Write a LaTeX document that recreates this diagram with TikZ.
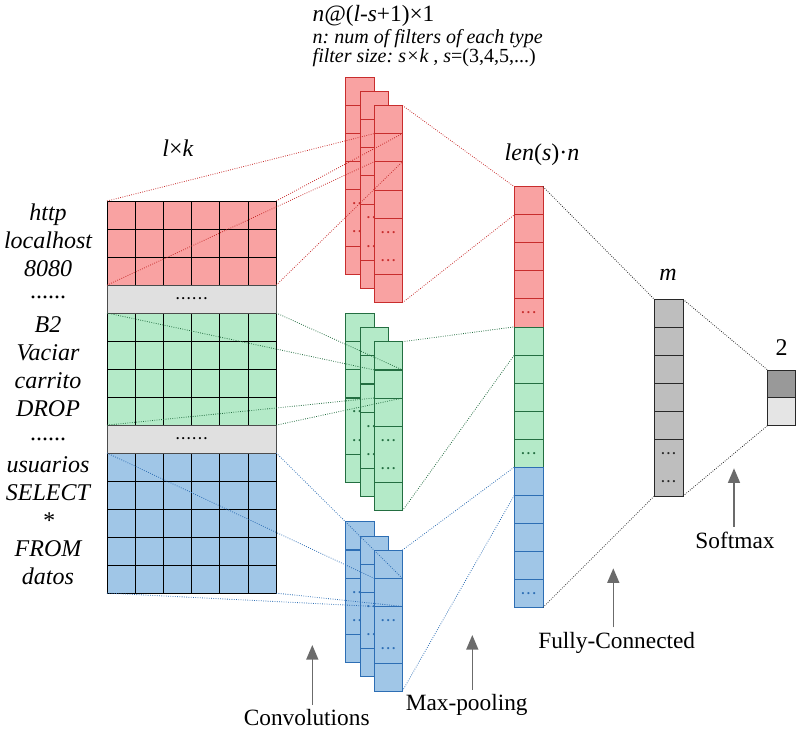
\documentclass[tikz,border=0pt]{standalone}
\usepackage{fontspec}
\setmainfont{Liberation Serif}
\usetikzlibrary{arrows.meta}
\frenchspacing
\definecolor{rfill}{RGB}{249,162,162}
\definecolor{rline}{RGB}{200,45,45}
\definecolor{gfill}{RGB}{180,234,200}
\definecolor{gline}{RGB}{35,110,65}
\definecolor{bfill}{RGB}{160,198,231}
\definecolor{bline}{RGB}{45,110,180}
\definecolor{kfill}{RGB}{190,190,190}
\definecolor{kline}{RGB}{40,40,40}
\tikzset{
  cell/.style={draw, line width=0.6pt, anchor=north west, inner sep=0pt, outer sep=0pt,
    minimum width=21.2pt, minimum height=21.1pt},
  blockcol/.style={fill=#1fill, draw=#1line},
  gapcell/.style={cell, fill=black!12, draw=black!70, minimum width=126.9pt,
    font=\fontsize{10}{10}\selectfont\bfseries},
  celldots/.style={text=#1line, inner sep=0pt, font=\fontsize{10}{10}\selectfont\bfseries},
  link/.style={draw=#1line, line width=0.6pt, dash pattern=on 0.6pt off 1.1pt},
  uparrow/.style={draw=black!58, line width=1.2pt, -{Triangle[length=11pt,width=9pt]}},
  wordlab/.style={font=\fontsize{18}{20}\selectfont\itshape, text height=12pt, text depth=4pt, inner sep=0pt},
  dotlab/.style={font=\fontsize{18}{20}\selectfont, inner sep=0pt},
  steplab/.style={font=\fontsize{17.5}{20}\selectfont},
  dimlab/.style={font=\fontsize{18}{20}\selectfont},
}
\begin{document}
\begin{tikzpicture}[x=0.75pt,y=-0.75pt]
\useasboundingbox (0,0) rectangle (796,731);

% input matrix
\foreach \cl/\rows/\ytop in {r/3/201,g/4/313,b/5/453}
  \foreach \i in {1,...,\rows}
    \foreach \j in {1,...,6}
      \node[cell, blockcol=\cl, draw=black] (m\cl-\i-\j) at ({107+28.2*(\j-1)},{\ytop+28*(\i-1)}) {};
\node[gapcell] (gap1) at (107,285) {.\,.\,.\,.\,.\,.};
\node[gapcell] (gap2) at (107,425) {.\,.\,.\,.\,.\,.};

\foreach \t/\rw [count=\i] in {http/1,localhost/2,8080/3,B2/5,Vaciar/6,carrito/7,DROP/8,usuarios/10,SELECT/11,*/12,FROM/13,datos/14}
  \node[wordlab] (word\i) at (48,{215+28*(\rw-1)}) {\t};
\node[dotlab] (skip1) at (48,297) {......};
\node[dotlab] (skip2) at (48,439) {......};
\node[dimlab] (lk) at (178,148) {\textit{l}×\textit{k}};

% convolution filters
\foreach \cl/\nn/\ytop in {r/4/77,g/3/313.3,b/2/521.7}
  \foreach \colm in {1,2,3}{
    \pgfmathsetmacro\cx{345.7+14.2*(\colm-1)}
    \pgfmathsetmacro\cy{\ytop+14.2*(\colm-1)}
    \foreach \i in {1,...,\nn}
      \node[cell, blockcol=\cl] (\cl c-\colm-\i) at (\cx,{\cy+28.2*(\i-1)}) {};
    \node[cell, blockcol=\cl, minimum height=42.3pt] (\cl c-\colm-d) at (\cx,{\cy+28.2*\nn}) {};
    \node[cell, blockcol=\cl] (\cl c-\colm-e) at (\cx,{\cy+28.2*(\nn+2)}) {};
    \node[celldots=\cl] (\cl c-\colm-d1) at ({\cx+14.2},{\cy+28.2*(\nn+0.5)}) {.\,.\,.};
    \node[celldots=\cl] (\cl c-\colm-d2) at ({\cx+14.2},{\cy+28.2*(\nn+1.5)}) {.\,.\,.};
  }
\node[font=\fontsize{17.5}{20}\selectfont, anchor=west] (shape) at (308,16) {\textit{n@}(\textit{l-s}+1)×1};
\node[font=\fontsize{15}{17}\selectfont\itshape, anchor=west] (note1) at (308,39) {n: num of filters of each type};
\node[font=\fontsize{15}{17}\selectfont, anchor=west] (note2) at (308,58) {\textit{filter size: s×k , s}=(3,4,5,...)};

% max-pooling
\foreach \cl [count=\blk from 0] in {r,g,b}{
  \foreach \i in {1,...,5}
    \node[cell, blockcol=\cl, minimum width=21.5pt] (p\cl-\i) at (514.3,{186.7+28.04*(5*\blk+\i-1)}) {};
  \node[celldots=\cl] (p\cl-dots) at (p\cl-5) {.\,.\,.};
}
\node[dimlab] (lens) at (542,155) {\textit{len}(\textit{s})·\textit{n}};

% fully connected + softmax
\foreach \i in {1,...,5}
  \node[cell, blockcol=k, minimum width=21.5pt] (fc-\i) at (654.3,{299.3+28.1*(\i-1)}) {};
\node[cell, blockcol=k, minimum width=21.5pt, minimum height=42.15pt] (fc-d) at (654.3,{299.3+28.1*5}) {};
\node[celldots=k] (fc-d1) at (668.6,{299.3+28.1*5.5}) {.\,.\,.};
\node[celldots=k] (fc-d2) at (668.6,{299.3+28.1*6.5}) {.\,.\,.};
\node[dimlab] (mlab) at (668,275) {\textit{m}};
\node[cell, fill=black!40, draw=kline] (sm-1) at (767.6,370) {};
\node[cell, fill=black!10, draw=kline, minimum height=20.9pt] (sm-2) at (767.6,397.7) {};
\node[dimlab] (twolab) at (781.7,348) {2};

% dotted links
\foreach \cl/\rows in {r/3,g/4,b/5}{
  \draw[link=\cl] (m\cl-1-1.north west) -- (\cl c-3-2.north west);
  \draw[link=\cl] (m\cl-1-6.north east) -- (\cl c-3-2.north east);
  \draw[link=\cl] (m\cl-\rows-1.south west) -- (\cl c-3-2.south west);
  \draw[link=\cl] (m\cl-\rows-6.south east) -- (\cl c-3-2.south east);
  \draw[link=\cl] (\cl c-3-1.north east) -- (p\cl-1.north west);
  \draw[link=\cl] (\cl c-3-e.south east) -- (p\cl-1.south west);
}
\draw[link=k] (pr-1.north east) -- (fc-1.north west);
\draw[link=k] (pb-5.south east) -- (fc-d.south west);
\draw[link=k] (fc-1.north east) -- (sm-1.north west);
\draw[link=k] (fc-d.south east) -- (sm-2.south west);

% stage labels
\node[steplab] (conv) at (306.7,718) {Convolutions};
\coordinate (convtip) at (312.3,645);
\draw[uparrow] (convtip |- conv.north) -- (convtip);
\node[steplab] (pool) at (466.7,705) {Max-pooling};
\coordinate (pooltip) at (472.3,635);
\draw[uparrow] (pooltip |- pool.north) -- (pooltip);
\node[steplab] (full) at (616.7,642.7) {Fully-Connected};
\coordinate (fulltip) at (613.3,568.3);
\draw[uparrow] (fulltip |- full.north) -- (fulltip);
\node[steplab] (soft) at (735,540) {Softmax};
\coordinate (softtip) at (734,468.3);
\draw[uparrow] (softtip |- soft.north) -- (softtip);
\end{tikzpicture}
\end{document}
